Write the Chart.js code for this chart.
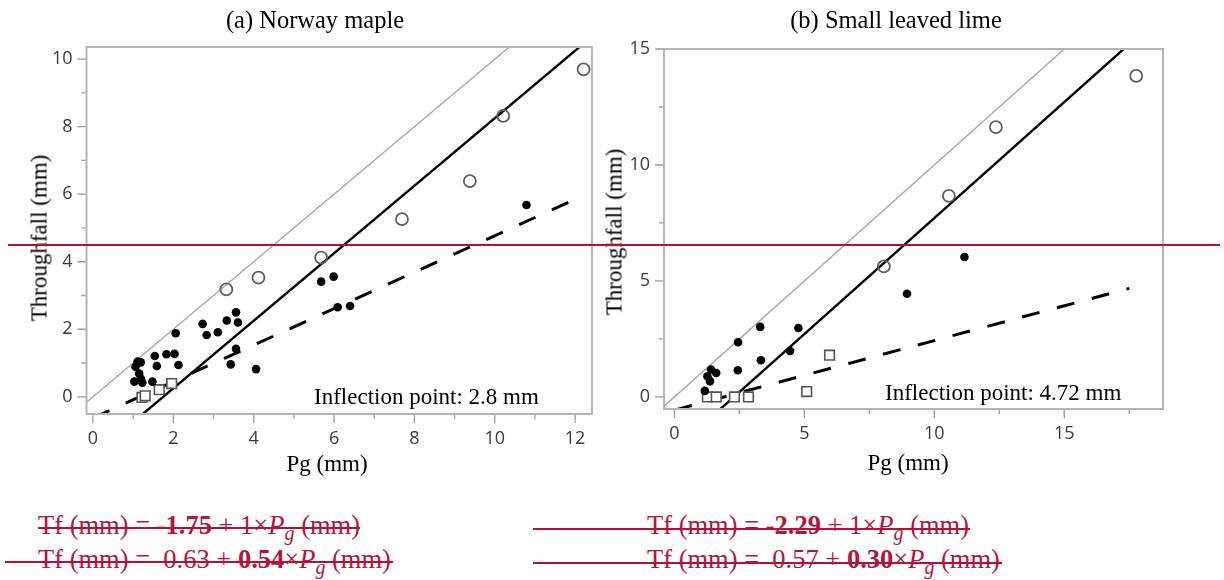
<!DOCTYPE html>
<html>
<head>
<meta charset="utf-8">
<script src="https://cdn.jsdelivr.net/npm/chart.js@4.4.1/dist/chart.umd.min.js"></script>
<style>
  body { margin: 0; background: #fff; width: 1224px; height: 580px; overflow: hidden; position: relative; }
  canvas { position: absolute; top: 0; }
  .t { position: absolute; font-family: "Liberation Serif", "Times New Roman", serif; color: #000; line-height: 1; white-space: pre; }
  .c { transform: translate(-50%, -50%); }
  .rot { transform: translate(-50%, -50%) rotate(-90deg); }
  .eq { position: absolute; font-family: "Liberation Serif", "Times New Roman", serif; font-size: 26.5px; line-height: 1; color: #b3163c; white-space: pre; }
  .eq i sub { font-size: 20px; position: relative; top: 6px; vertical-align: baseline; }
  .strike { position: absolute; height: 2px; background: #b80f36; }
</style>
</head>
<body>
<canvas id="chartMaple" width="612" height="480" style="left:0"></canvas>
<canvas id="chartLime" width="612" height="480" style="left:612px"></canvas>

<div class="t c" style="left:315px; top:20px; font-size:24.5px">(a) Norway maple</div>
<div class="t c" style="left:896px; top:20px; font-size:24.5px">(b) Small leaved lime</div>
<div class="t rot" style="left:39px; top:238px; font-size:23px">Throughfall (mm)</div>
<div class="t rot" style="left:614px; top:232px; font-size:23px">Throughfall (mm)</div>
<div class="t c" style="left:327px; top:463px; font-size:23px">Pg (mm)</div>
<div class="t c" style="left:908px; top:462px; font-size:23px">Pg (mm)</div>
<div class="t" style="left:314px; top:385px; font-size:23px">Inflection point: 2.8 mm</div>
<div class="t" style="left:885px; top:381px; font-size:23px">Inflection point: 4.72 mm</div>

<div class="eq" style="left:38px; top:512px">Tf (mm) = <b>-1.75</b> + 1×<i>P<sub>g</sub></i> (mm)</div>
<div class="eq" style="left:38px; top:546px">Tf (mm) =  0.63 + <b>0.54</b>×<i>P<sub>g</sub></i> (mm)</div>
<div class="eq" style="left:647px; top:512px">Tf (mm) = <b>-2.29</b> + 1×<i>P<sub>g</sub></i> (mm)</div>
<div class="eq" style="left:647px; top:546px">Tf (mm) =  0.57 + <b>0.30</b>×<i>P<sub>g</sub></i> (mm)</div>

<div class="strike" style="left:38px; width:322px; top:527px"></div>
<div class="strike" style="left:5px; width:388px; top:561px"></div>
<div class="strike" style="left:533px; width:437px; top:528px"></div>
<div class="strike" style="left:533px; width:469px; top:562px"></div>
<div class="strike" style="left:8px; width:1212px; top:244px"></div>

<script>
// (a) Norway maple
const maplePgOpen = [3.32, 4.12, 5.68, 7.69, 9.38, 10.21, 12.21]
const mapleTfOpen = [3.18, 3.53, 4.12, 5.26, 6.39, 8.32, 9.70]
const maplePgDot = [1.03, 1.06, 1.11, 1.19, 1.15, 1.19, 1.23, 1.48, 1.54, 1.59, 1.83, 2.03, 2.06, 2.13, 2.73, 2.83, 3.11, 3.33, 3.56, 3.61, 3.56, 3.43, 4.06, 5.68, 5.99, 6.09, 6.40, 10.79]
const mapleTfDot = [0.45, 0.89, 1.04, 1.02, 0.69, 0.54, 0.42, 0.45, 1.21, 0.91, 1.26, 1.27, 1.88, 0.94, 2.16, 1.83, 1.91, 2.26, 2.50, 2.20, 1.42, 0.96, 0.82, 3.41, 3.56, 2.65, 2.69, 5.68]
const maplePgSquare = [1.22, 1.30, 1.65, 1.96]
const mapleTfSquare = [-0.02, 0.03, 0.21, 0.39]
// [intercept, slope, x start, x end]
const mapleAbove = [-1.75, 1, 0, 13]
const mapleBelow = [-0.63, 0.54, 0, 12.2]
const mapleOneToOne = [0, 1, -1, 11]
const mapleXLabels = [0, 2, 4, 6, 8, 10, 12]
const mapleYLabels = [0, 2, 4, 6, 8, 10]

// (b) Small leaved lime
const limePgOpen = [8.06, 10.56, 12.37, 17.77]
const limeTfOpen = [5.63, 8.67, 11.63, 13.84]
const limePgDot = [1.17, 1.27, 1.37, 1.41, 1.61, 2.44, 2.45, 3.30, 3.33, 4.45, 4.77, 8.95, 11.16]
const limeTfDot = [0.26, 0.89, 0.68, 1.18, 1.03, 1.15, 2.36, 3.02, 1.58, 1.98, 2.97, 4.45, 6.03]
const limePgSquare = [1.27, 1.61, 2.31, 2.85, 5.09, 5.97]
const limeTfSquare = [0, 0, 0, 0, 0.23, 1.80]
const limeAbove = [-2.29, 1, 0, 18]
const limeBelow = [-0.57, 0.30, 0, 17.5]
const limeOneToOne = [0, 1, -1, 16]
const limeXLabels = [0, 5, 10, 15]
const limeYLabels = [0, 5, 10, 15]

const toPoints = (xs, ys) => xs.map((x, i) => ({ x: x, y: ys[i] }))
const linePoints = ([a, b, x0, x1]) => [{ x: x0, y: a + b * x0 }, { x: x1, y: a + b * x1 }]
const isLabel = (list, v) => list.some(l => Math.abs(l - v) < 1e-6)

// grey frame on all four sides, long ticks at labels, short ticks between
const frameTicks = {
    id: 'frameTicks',
    afterDraw(chart, args, opts) {
        const { ctx, chartArea: a, scales: { x, y } } = chart
        ctx.save()
        ctx.strokeStyle = '#b4b4b4'
        ctx.lineWidth = 2
        ctx.strokeRect(a.left, a.top, a.right - a.left, a.bottom - a.top)
        ctx.strokeStyle = '#9a9a9a'
        ctx.lineWidth = 1.3
        ctx.beginPath()
        x.ticks.forEach(t => {
            const px = x.getPixelForValue(t.value)
            const len = isLabel(opts.xLabels, t.value) ? 8 : 4
            ctx.moveTo(px, a.bottom + 1)
            ctx.lineTo(px, a.bottom + 1 + len)
        })
        y.ticks.forEach(t => {
            const py = y.getPixelForValue(t.value)
            const len = isLabel(opts.yLabels, t.value) ? 8 : 4
            ctx.moveTo(a.left - 1, py)
            ctx.lineTo(a.left - 1 - len, py)
        })
        ctx.stroke()
        ctx.restore()
    }
}

const buildChart = (canvas, cfg) => new Chart(canvas.getContext('2d'), {
    type: 'scatter',
    data: {
        datasets: [
            {
                label: 'open', data: toPoints(cfg.pgOpen, cfg.tfOpen), order: 0, clip: false,
                pointStyle: 'circle', pointRadius: 6, pointBorderWidth: 1.8,
                pointBorderColor: '#5e5e5e', pointBackgroundColor: 'rgba(255,255,255,0)'
            },
            {
                label: 'dot', data: toPoints(cfg.pgDot, cfg.tfDot), order: 0, clip: false,
                pointStyle: 'circle', pointRadius: 4.3, pointBorderWidth: 0,
                pointBackgroundColor: '#000'
            },
            {
                label: 'square', data: toPoints(cfg.pgSquare, cfg.tfSquare), order: 0, clip: false,
                pointStyle: 'rect', pointRadius: 6.8, pointBorderWidth: 1.6,
                pointBorderColor: '#555', pointBackgroundColor: '#fff'
            },
            {
                label: '1:1', type: 'line', data: linePoints(cfg.oneToOne), order: 2,
                borderColor: '#a8a8a8', borderWidth: 1.4, pointRadius: 0
            },
            {
                label: 'above', type: 'line', data: linePoints(cfg.above), order: 1,
                borderColor: '#000', borderWidth: 2.4, pointRadius: 0
            },
            {
                label: 'below', type: 'line', data: linePoints(cfg.below), order: 1,
                borderColor: '#000', borderWidth: 3, borderDash: [18, 18], pointRadius: 0
            }
        ]
    },
    options: {
        responsive: false,
        animation: false,
        devicePixelRatio: 1,
        layout: { padding: cfg.padding },
        plugins: {
            legend: { display: false },
            tooltip: { enabled: false },
            frameTicks: { xLabels: cfg.xLabels, yLabels: cfg.yLabels }
        },
        scales: {
            x: {
                min: cfg.x[0], max: cfg.x[1],
                grid: { display: false, drawTicks: false },
                border: { display: false },
                afterFit: s => { s.height = cfg.xHeight },
                ticks: {
                    stepSize: cfg.x[2], includeBounds: false, autoSkip: false, maxTicksLimit: 100, maxRotation: 0,
                    padding: 14, color: '#3a3a3a', font: { family: 'Open Sans', size: 18 },
                    callback: v => isLabel(cfg.xLabels, v) ? String(v) : ''
                }
            },
            y: {
                min: cfg.y[0], max: cfg.y[1],
                grid: { display: false, drawTicks: false },
                border: { display: false },
                afterFit: s => { s.width = cfg.yWidth },
                ticks: {
                    stepSize: cfg.y[2], includeBounds: false, autoSkip: false, maxTicksLimit: 100,
                    padding: 14, color: '#3a3a3a', font: { family: 'Open Sans', size: 18 },
                    callback: v => isLabel(cfg.yLabels, v) ? String(v) : ''
                }
            }
        }
    },
    plugins: [frameTicks]
})

const chartMaple = buildChart(document.getElementById('chartMaple'), {
    pgOpen: maplePgOpen, tfOpen: mapleTfOpen,
    pgDot: maplePgDot, tfDot: mapleTfDot,
    pgSquare: maplePgSquare, tfSquare: mapleTfSquare,
    above: mapleAbove, below: mapleBelow, oneToOne: mapleOneToOne,
    xLabels: mapleXLabels, yLabels: mapleYLabels,
    x: [-0.16, 12.42, 1], y: [-0.51, 10.36, 1],
    padding: { left: 0, right: 20, top: 47, bottom: 0 },
    yWidth: 86.5, xHeight: 66
})

const chartLime = buildChart(document.getElementById('chartLime'), {
    pgOpen: limePgOpen, tfOpen: limeTfOpen,
    pgDot: limePgDot, tfDot: limeTfDot,
    pgSquare: limePgSquare, tfSquare: limeTfSquare,
    above: limeAbove, below: limeBelow, oneToOne: limeOneToOne,
    xLabels: limeXLabels, yLabels: limeYLabels,
    x: [-0.4, 18.8, 2.5], y: [-0.52, 15, 2.5],
    padding: { left: 0, right: 61, top: 49, bottom: 0 },
    yWidth: 52, xHeight: 71
})
</script>
</body>
</html>
